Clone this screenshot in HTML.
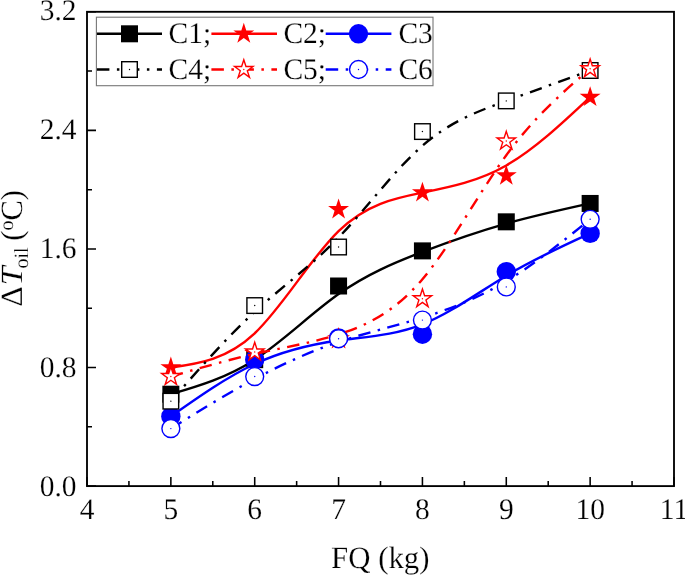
<!DOCTYPE html>
<html><head><meta charset="utf-8"><title>chart</title>
<style>html,body{margin:0;padding:0;background:#fff;}svg{display:block;will-change:transform;}text{font-family:"Liberation Serif",serif;fill:#000;text-rendering:geometricPrecision;stroke:#fff;stroke-width:0.2px;}</style></head><body>
<svg width="685" height="576" viewBox="0 0 685 576">
<rect width="685" height="576" fill="#fff"/>
<path d="M170.86 394.20 C198.81 385.95 226.76 377.70 254.71 359.67 C282.67 341.64 310.62 313.82 338.57 294.06 C366.52 274.30 394.48 262.59 422.43 251.89 C450.38 241.19 478.33 231.51 506.29 223.60 C534.24 215.70 562.19 209.57 590.14 203.45" fill="none" stroke="#000" stroke-width="2.40"/>
<rect x="162.36" y="385.70" width="17" height="17" fill="#000"/>
<rect x="246.21" y="351.17" width="17" height="17" fill="#000"/>
<rect x="330.07" y="277.50" width="17" height="17" fill="#000"/>
<rect x="413.93" y="242.38" width="17" height="17" fill="#000"/>
<rect x="497.79" y="213.33" width="17" height="17" fill="#000"/>
<rect x="581.64" y="194.95" width="17" height="17" fill="#000"/>
<path d="M170.86 367.52 C198.81 363.57 226.76 359.62 254.71 333.29 C282.67 306.95 310.62 258.24 338.57 231.06 C366.52 203.89 394.48 198.26 422.43 192.63 C450.38 186.99 478.33 181.36 506.29 165.45 C534.24 149.54 562.19 123.36 590.14 97.17" fill="none" stroke="#ff0000" stroke-width="2.40"/>
<polygon points="170.86,356.52 173.33,364.13 181.32,364.13 174.85,368.82 177.32,376.42 170.86,371.73 164.39,376.42 166.86,368.82 160.40,364.13 168.39,364.13" fill="#ff0000"/>
<polygon points="254.71,342.44 257.18,350.04 265.18,350.05 258.71,354.74 261.18,362.34 254.71,357.65 248.25,362.34 250.72,354.74 244.25,350.05 252.24,350.04" fill="#ff0000"/>
<polygon points="338.57,198.52 341.04,206.12 349.03,206.12 342.57,210.82 345.04,218.42 338.57,213.73 332.11,218.42 334.58,210.82 328.11,206.12 336.10,206.12" fill="#ff0000"/>
<polygon points="422.43,181.63 424.90,189.23 432.89,189.23 426.42,193.93 428.89,201.53 422.43,196.83 415.96,201.53 418.43,193.93 411.97,189.23 419.96,189.23" fill="#ff0000"/>
<polygon points="506.29,164.73 508.76,172.33 516.75,172.33 510.28,177.03 512.75,184.63 506.29,179.93 499.82,184.63 502.29,177.03 495.82,172.33 503.82,172.33" fill="#ff0000"/>
<polygon points="590.14,86.17 592.61,93.77 600.60,93.77 594.14,98.47 596.61,106.07 590.14,101.38 583.68,106.07 586.15,98.47 579.68,93.77 587.67,93.77" fill="#ff0000"/>
<path d="M170.86 416.44 C198.81 396.77 226.76 377.11 254.71 364.02 C282.67 350.92 310.62 344.40 338.57 340.52 C366.52 336.65 394.48 335.41 422.43 324.37 C450.38 313.33 478.33 292.48 506.29 275.68 C534.24 258.88 562.19 246.13 590.14 233.39" fill="none" stroke="#0000ff" stroke-width="2.40"/>
<circle cx="170.86" cy="416.44" r="9.7" fill="#0000ff"/>
<circle cx="254.71" cy="359.67" r="9.7" fill="#0000ff"/>
<circle cx="338.57" cy="337.88" r="9.7" fill="#0000ff"/>
<circle cx="422.43" cy="334.18" r="9.7" fill="#0000ff"/>
<circle cx="506.29" cy="271.63" r="9.7" fill="#0000ff"/>
<circle cx="590.14" cy="233.39" r="9.7" fill="#0000ff"/>
<path d="M170.86 401.17 C198.81 369.30 226.76 337.44 254.71 311.75 C282.67 286.05 310.62 266.54 338.57 237.54 C366.52 208.54 394.48 170.05 422.43 145.69 C450.38 121.33 478.33 111.11 506.29 100.93 C534.24 90.75 562.19 80.62 590.14 70.49" fill="none" stroke="#000" stroke-width="2.40" stroke-dasharray="12.5 7.5 2.5 7.5"/>
<rect x="163.06" y="393.37" width="15.6" height="15.6" fill="#fff" stroke="#000" stroke-width="1.4"/><circle cx="170.86" cy="401.17" r="0.7" fill="#000"/>
<rect x="246.91" y="297.77" width="15.6" height="15.6" fill="#fff" stroke="#000" stroke-width="1.4"/><circle cx="254.71" cy="305.57" r="0.7" fill="#000"/>
<rect x="330.77" y="239.22" width="15.6" height="15.6" fill="#fff" stroke="#000" stroke-width="1.4"/><circle cx="338.57" cy="247.02" r="0.7" fill="#000"/>
<rect x="414.63" y="123.76" width="15.6" height="15.6" fill="#fff" stroke="#000" stroke-width="1.4"/><circle cx="422.43" cy="131.56" r="0.7" fill="#000"/>
<rect x="498.49" y="93.08" width="15.6" height="15.6" fill="#fff" stroke="#000" stroke-width="1.4"/><circle cx="506.29" cy="100.88" r="0.7" fill="#000"/>
<rect x="582.34" y="62.69" width="15.6" height="15.6" fill="#fff" stroke="#000" stroke-width="1.4"/><circle cx="590.14" cy="70.49" r="0.7" fill="#000"/>
<path d="M170.86 376.57 C198.81 368.36 226.76 360.16 254.71 353.89 C282.67 347.61 310.62 343.27 338.57 334.40 C366.52 325.53 394.48 312.14 422.43 279.16 C450.38 246.18 478.33 193.62 506.29 155.28 C534.24 116.94 562.19 92.83 590.14 68.72" fill="none" stroke="#ff0000" stroke-width="2.40" stroke-dasharray="12.5 7.5 2.5 7.5"/>
<polygon points="170.86,366.87 173.04,373.57 180.08,373.57 174.38,377.71 176.56,384.41 170.86,380.27 165.16,384.41 167.33,377.71 161.63,373.57 168.68,373.57" fill="#fff" stroke="#ff0000" stroke-width="1.4"/><circle cx="170.86" cy="376.57" r="0.7" fill="#ff0000"/>
<polygon points="254.71,342.26 256.89,348.96 263.94,348.96 258.24,353.11 260.42,359.81 254.71,355.67 249.01,359.81 251.19,353.11 245.49,348.96 252.54,348.96" fill="#fff" stroke="#ff0000" stroke-width="1.4"/><circle cx="254.71" cy="351.96" r="0.7" fill="#ff0000"/>
<polygon points="338.57,329.22 340.75,335.92 347.80,335.92 342.10,340.06 344.27,346.77 338.57,342.62 332.87,346.77 335.05,340.06 329.35,335.92 336.39,335.92" fill="#fff" stroke="#ff0000" stroke-width="1.4"/><circle cx="338.57" cy="338.92" r="0.7" fill="#ff0000"/>
<polygon points="422.43,289.05 424.61,295.75 431.65,295.75 425.95,299.90 428.13,306.60 422.43,302.46 416.73,306.60 418.90,299.90 413.20,295.75 420.25,295.75" fill="#fff" stroke="#ff0000" stroke-width="1.4"/><circle cx="422.43" cy="298.75" r="0.7" fill="#ff0000"/>
<polygon points="506.29,131.35 508.46,138.05 515.51,138.05 509.81,142.19 511.99,148.89 506.29,144.75 500.58,148.89 502.76,142.19 497.06,138.05 504.11,138.05" fill="#fff" stroke="#ff0000" stroke-width="1.4"/><circle cx="506.29" cy="141.05" r="0.7" fill="#ff0000"/>
<polygon points="590.14,59.02 592.32,65.72 599.37,65.72 593.67,69.86 595.84,76.56 590.14,72.42 584.44,76.56 586.62,69.86 580.92,65.72 587.96,65.72" fill="#fff" stroke="#ff0000" stroke-width="1.4"/><circle cx="590.14" cy="68.72" r="0.7" fill="#ff0000"/>
<path d="M170.86 428.59 C198.81 411.25 226.76 393.91 254.71 378.94 C282.67 363.97 310.62 351.37 338.57 341.96 C366.52 332.55 394.48 326.32 422.43 317.67 C450.38 309.03 478.33 297.96 506.29 281.16 C534.24 264.36 562.19 241.84 590.14 219.31" fill="none" stroke="#0000ff" stroke-width="2.40" stroke-dasharray="12.5 7.5 2.5 7.5"/>
<circle cx="170.86" cy="428.59" r="8.95" fill="#fff" stroke="#0000ff" stroke-width="1.4"/><circle cx="170.86" cy="428.59" r="0.7" fill="#0000ff"/>
<circle cx="254.71" cy="376.57" r="8.95" fill="#fff" stroke="#0000ff" stroke-width="1.4"/><circle cx="254.71" cy="376.57" r="0.7" fill="#0000ff"/>
<circle cx="338.57" cy="338.77" r="8.95" fill="#fff" stroke="#0000ff" stroke-width="1.4"/><circle cx="338.57" cy="338.77" r="0.7" fill="#0000ff"/>
<circle cx="422.43" cy="320.10" r="8.95" fill="#fff" stroke="#0000ff" stroke-width="1.4"/><circle cx="422.43" cy="320.10" r="0.7" fill="#0000ff"/>
<circle cx="506.29" cy="286.89" r="8.95" fill="#fff" stroke="#0000ff" stroke-width="1.4"/><circle cx="506.29" cy="286.89" r="0.7" fill="#0000ff"/>
<circle cx="590.14" cy="219.31" r="8.95" fill="#fff" stroke="#0000ff" stroke-width="1.4"/><circle cx="590.14" cy="219.31" r="0.7" fill="#0000ff"/>
<rect x="87.00" y="11.80" width="587.00" height="474.30" fill="none" stroke="#000" stroke-width="1.85"/>
<path d="M87.00 486.10h9 M87.00 426.81h5 M87.00 367.52h9 M87.00 308.24h5 M87.00 248.95h9 M87.00 189.66h5 M87.00 130.38h9 M87.00 71.09h5 M87.00 11.80h9 M87.00 486.10v-9 M128.93 486.10v-5 M170.86 486.10v-9 M212.79 486.10v-5 M254.71 486.10v-9 M296.64 486.10v-5 M338.57 486.10v-9 M380.50 486.10v-5 M422.43 486.10v-9 M464.36 486.10v-5 M506.29 486.10v-9 M548.21 486.10v-5 M590.14 486.10v-9 M632.07 486.10v-5 M674.00 486.10v-9" stroke="#000" stroke-width="1.55" fill="none"/>
<text transform="translate(76.50,495.80) scale(1,1.010)" font-size="29.5" text-anchor="end">0.0</text>
<text transform="translate(76.50,376.74) scale(1,1.010)" font-size="29.5" text-anchor="end">0.8</text>
<text transform="translate(76.50,257.69) scale(1,1.010)" font-size="29.5" text-anchor="end">1.6</text>
<text transform="translate(76.50,138.64) scale(1,1.010)" font-size="29.5" text-anchor="end">2.4</text>
<text transform="translate(76.50,19.58) scale(1,1.010)" font-size="29.5" text-anchor="end">3.2</text>
<text transform="translate(87.00,518.80) scale(1,1.010)" font-size="29.5" text-anchor="middle">4</text>
<text transform="translate(170.86,518.80) scale(1,1.010)" font-size="29.5" text-anchor="middle">5</text>
<text transform="translate(254.71,518.80) scale(1,1.010)" font-size="29.5" text-anchor="middle">6</text>
<text transform="translate(338.57,518.80) scale(1,1.010)" font-size="29.5" text-anchor="middle">7</text>
<text transform="translate(422.43,518.80) scale(1,1.010)" font-size="29.5" text-anchor="middle">8</text>
<text transform="translate(506.29,518.80) scale(1,1.010)" font-size="29.5" text-anchor="middle">9</text>
<text transform="translate(590.14,518.80) scale(1,1.010)" font-size="29.5" text-anchor="middle">10</text>
<text transform="translate(674.00,518.80) scale(1,1.010)" font-size="29.5" text-anchor="middle">11</text>
<text transform="translate(380.30,567.80) scale(1,1.010)" font-size="30.8" text-anchor="middle">FQ (kg)</text>
<g transform="translate(22.2,305.98) rotate(-90)" font-size="30.5"><text transform="translate(-0.7,0) scale(1.04,1.010)">Δ</text><text transform="translate(20.57,0) scale(1.12,1.010)" font-style="italic">T</text><text transform="translate(37.43,6) scale(1,1.010)" font-size="20">oil</text><text transform="translate(65.32,0) scale(1,1.010)">(</text><text transform="translate(75.47,-9) scale(1,1.010)" font-size="20">o</text><text transform="translate(85.47,0) scale(1,1.010)">C)</text></g>
<rect x="96.4" y="17.2" width="336.6" height="68.5" fill="#fff" stroke="#777" stroke-width="1.1"/>
<path d="M96.90 33.80H162.00" stroke="#000" stroke-width="2.40" fill="none"/>
<rect x="121.00" y="25.30" width="17" height="17" fill="#000"/>
<text transform="translate(168.50,43.40) scale(1,1.010)" font-size="29.5">C1;</text>
<path d="M211.40 33.80H277.00" stroke="#ff0000" stroke-width="2.40" fill="none"/>
<polygon points="243.80,22.80 246.27,30.40 254.26,30.40 247.80,35.10 250.27,42.70 243.80,38.00 237.33,42.70 239.80,35.10 233.34,30.40 241.33,30.40" fill="#ff0000"/>
<text transform="translate(283.40,43.40) scale(1,1.010)" font-size="29.5">C2;</text>
<path d="M325.70 33.80H391.40" stroke="#0000ff" stroke-width="2.40" fill="none"/>
<circle cx="358.50" cy="33.80" r="9.7" fill="#0000ff"/>
<text transform="translate(398.40,43.40) scale(1,1.010)" font-size="29.5">C3</text>
<path d="M96.90 69.50H162.00" stroke="#000" stroke-width="2.40" stroke-dasharray="12.5 7.5 2.5 7.5" fill="none"/>
<rect x="121.70" y="61.70" width="15.6" height="15.6" fill="#fff" stroke="#000" stroke-width="1.4"/><circle cx="129.50" cy="69.50" r="0.7" fill="#000"/>
<text transform="translate(168.50,78.80) scale(1,1.010)" font-size="29.5">C4;</text>
<path d="M211.40 69.50H277.00" stroke="#ff0000" stroke-width="2.40" stroke-dasharray="12.5 7.5 2.5 7.5" fill="none"/>
<polygon points="243.80,59.80 245.98,66.50 253.03,66.50 247.32,70.65 249.50,77.35 243.80,73.21 238.10,77.35 240.28,70.65 234.57,66.50 241.62,66.50" fill="#fff" stroke="#ff0000" stroke-width="1.4"/><circle cx="243.80" cy="69.50" r="0.7" fill="#ff0000"/>
<text transform="translate(283.40,78.80) scale(1,1.010)" font-size="29.5">C5;</text>
<path d="M325.70 69.50H391.40" stroke="#0000ff" stroke-width="2.40" stroke-dasharray="12.5 7.5 2.5 7.5" fill="none"/>
<circle cx="358.50" cy="69.50" r="8.95" fill="#fff" stroke="#0000ff" stroke-width="1.4"/><circle cx="358.50" cy="69.50" r="0.7" fill="#0000ff"/>
<text transform="translate(398.40,78.80) scale(1,1.010)" font-size="29.5">C6</text>
</svg></body></html>
